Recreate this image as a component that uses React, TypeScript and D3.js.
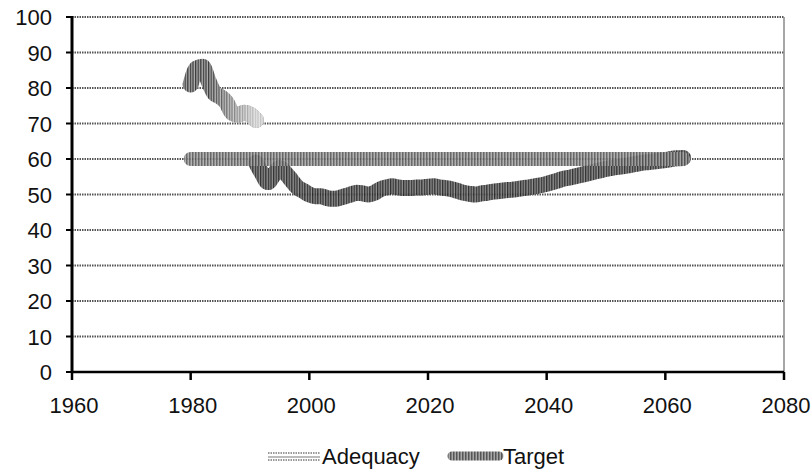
import React from "react";
import * as d3 from "d3";

const yTicks = [0, 10, 20, 30, 40, 50, 60, 70, 80, 90, 100];
const xTicks = [1960, 1980, 2000, 2020, 2040, 2060, 2080];

// Adequacy, early segment (1980-1991)
const adequacyEarlyYears = [1980, 1981, 1982, 1983, 1984, 1985, 1986, 1987, 1988, 1989, 1990, 1991];
const adequacyEarlyValues = [81, 85.5, 86, 82, 78.5, 77.5, 76, 73, 72.5, 73, 72.5, 71];

// Adequacy, main segment (1991-2063)
const adequacyYears = [
  1991, 1992, 1993, 1994, 1995, 1996, 1997, 1998, 1999, 2000, 2001, 2002, 2003, 2004, 2005, 2006, 2007,
  2008, 2009, 2010, 2011, 2012, 2013, 2014, 2015, 2016, 2017, 2018, 2019, 2020, 2021, 2022, 2023, 2024,
  2025, 2026, 2027, 2028, 2029, 2030, 2031, 2032, 2033, 2034, 2035, 2036, 2037, 2038, 2039, 2040, 2041,
  2042, 2043, 2044, 2045, 2046, 2047, 2048, 2049, 2050, 2051, 2052, 2053, 2054, 2055, 2056, 2057, 2058,
  2059, 2060, 2061, 2062, 2063,
];
const adequacyValues = [
  59, 56, 53.5, 55.5, 57.5, 56, 54, 52, 51, 50, 49.5, 49.5, 49, 48.8, 49, 49.5, 50,
  50.5, 50.3, 50, 50.5, 51.5, 52, 52.3, 52, 51.8, 51.8, 52, 52, 52.2, 52.3, 52, 51.8, 51.5,
  51, 50.5, 50.2, 50, 50.3, 50.5, 50.8, 51, 51.2, 51.3, 51.5, 51.8, 52, 52.3, 52.6, 53, 53.5,
  54, 54.5, 54.8, 55.2, 55.6, 56, 56.4, 56.8, 57.2, 57.5, 57.8, 58, 58.3, 58.6, 58.9, 59.1, 59.3,
  59.5, 59.7, 60, 60.2, 60.3,
];

const targetYears = [1980, 2063];
const targetValues = [60, 60];

const seriesNames = ["Adequacy", "Target"];

const FONT = "'Liberation Sans', Arial, sans-serif";

export default function App() {
  const W = 811;
  const H = 472;
  const x = d3.scaleLinear().domain([1960, 2080]).range([72, 784]);
  const y = d3.scaleLinear().domain([0, 100]).range([372, 17]);

  const line = d3
    .line<[number, number]>()
    .x((d) => x(d[0]))
    .y((d) => y(d[1]))
    .curve(d3.curveMonotoneX);

  const early = line(adequacyEarlyYears.map((yr, i) => [yr, adequacyEarlyValues[i]] as [number, number])) || "";
  const main = line(adequacyYears.map((yr, i) => [yr, adequacyValues[i]] as [number, number])) || "";
  const target = line(targetYears.map((yr, i) => [yr, targetValues[i]] as [number, number])) || "";

  return (
    <svg
      width={W}
      height={H}
      style={{ position: "absolute", left: 0, top: 0, background: "#fff" }}
      fontFamily={FONT}
    >
      <defs>
        <pattern id="pTarget" patternUnits="userSpaceOnUse" width="3" height="10">
          <rect width="3" height="10" fill="#a8a8a8" />
          <rect width="1.5" height="10" fill="#555" />
        </pattern>
        <pattern id="pAdeq" patternUnits="userSpaceOnUse" width="2.6" height="10">
          <rect width="2.6" height="10" fill="#858585" />
          <rect width="1.3" height="10" fill="#1a1a1a" />
        </pattern>
        <pattern id="pAdeqEarly" patternUnits="userSpaceOnUse" width="2.6" height="10">
          <rect width="2.6" height="10" fill="#b0b0b0" />
          <rect width="1.3" height="10" fill="#3a3a3a" />
        </pattern>
        <linearGradient id="gFade" gradientUnits="userSpaceOnUse" x1={x(1983)} x2={x(1991)} y1="0" y2="0">
          <stop offset="0" stopColor="#fff" stopOpacity="0" />
          <stop offset="1" stopColor="#fff" stopOpacity="0.7" />
        </linearGradient>
      </defs>

      {/* grid lines */}
      {yTicks.slice(1).map((v) => (
        <line
          key={"g" + v}
          x1={x(1960)}
          x2={x(2080)}
          y1={y(v)}
          y2={y(v)}
          stroke="#555"
          strokeWidth={2}
          strokeDasharray="1.5 1"
        />
      ))}
      {/* right border */}
      <line x1={x(2080)} x2={x(2080)} y1={y(100)} y2={y(0)} stroke="#888" strokeWidth={1.5} />

      {/* series */}
      <path d={early} fill="none" stroke="url(#pAdeqEarly)" strokeWidth={16} strokeLinecap="round" strokeLinejoin="round" />
      <path d={early} fill="none" stroke="url(#gFade)" strokeWidth={16} strokeLinecap="round" strokeLinejoin="round" />
      <path d={main} fill="none" stroke="url(#pAdeq)" strokeWidth={16} strokeLinecap="round" strokeLinejoin="round" opacity={0.9} />
      <path d={target} fill="none" stroke="url(#pTarget)" strokeWidth={14} strokeLinecap="round" opacity={0.88} />

      {/* axes */}
      <line x1={x(1960)} x2={x(1960)} y1={y(100) - 1} y2={y(0)} stroke="#000" strokeWidth={3} />
      <line x1={x(1960) - 1} x2={x(2080)} y1={y(0)} y2={y(0)} stroke="#000" strokeWidth={2.5} />
      {yTicks.map((v) => (
        <line key={"yt" + v} x1={x(1960) - 6} x2={x(1960)} y1={y(v)} y2={y(v)} stroke="#000" strokeWidth={2} />
      ))}
      {xTicks.map((v) => (
        <line key={"xt" + v} x1={x(v)} x2={x(v)} y1={y(0)} y2={y(0) + 8} stroke="#000" strokeWidth={2.5} />
      ))}

      {/* tick labels */}
      {yTicks.map((v) => (
        <text key={"yl" + v} x={52} y={y(v) + 8} textAnchor="end" fontSize={22} fill="#111">
          {v}
        </text>
      ))}
      {xTicks.map((v) => (
        <text key={"xl" + v} x={x(v) + 2} y={413} textAnchor="middle" fontSize={22} fill="#111">
          {v}
        </text>
      ))}

      {/* legend */}
      <g>
        <line x1={268} x2={320} y1={453} y2={453} stroke="#999" strokeWidth={2} strokeDasharray="1.5 1" />
        <line x1={268} x2={320} y1={457} y2={457} stroke="#bbb" strokeWidth={2} />
        <line x1={268} x2={320} y1={460} y2={460} stroke="#777" strokeWidth={1.5} strokeDasharray="1.5 1" />
        <text x={322} y={464} fontSize={22} fill="#111">
          {seriesNames[0]}
        </text>
        <line x1={452} x2={499} y1={456} y2={456} stroke="url(#pTarget)" strokeWidth={9} strokeLinecap="round" />
        <text x={503} y={464} fontSize={22} fill="#111">
          {seriesNames[1]}
        </text>
      </g>
    </svg>
  );
}
